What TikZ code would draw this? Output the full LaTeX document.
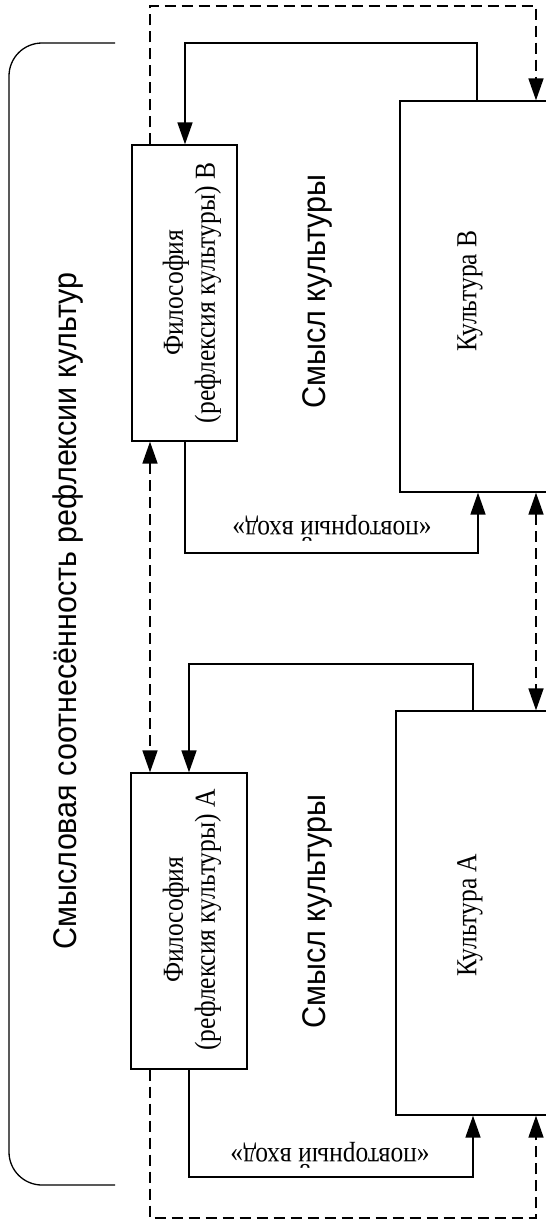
\documentclass[tikz,border=0pt]{standalone}
\usepackage{fontspec}
\setmainfont{Liberation Serif}[FakeStretch=0.88]
\newfontfamily\labelsans{Liberation Sans}[FakeStretch=0.93]
\usetikzlibrary{arrows.meta}
\tikzset{
  box/.style={draw, line width=0.65pt, inner sep=0pt},
  conn/.style={line width=0.85pt},
  arr/.style={conn, -{Triangle[length=11pt,width=7.5pt]}},
  darr/.style={conn, dash pattern=on 5.5pt off 3pt, -{Triangle[length=11pt,width=7.5pt]}},
  ddarr/.style={conn, dash pattern=on 5.5pt off 3pt, {Triangle[length=11pt,width=7.5pt]}-{Triangle[length=11pt,width=7.5pt]}},
  serif/.style={font=\fontsize{14.5pt}{16pt}\selectfont, align=center, inner sep=0pt},
  sans/.style={font=\labelsans\fontsize{16.4pt}{18pt}\selectfont, inner sep=0pt},
}
\begin{document}
\begin{tikzpicture}[x=0.5pt,y=-0.5pt]
\clip (0,0) rectangle (546,1222);
\fill[white] (0,0) rectangle (546,1222);

% boxes
\node[box, minimum width=52.5pt, minimum height=148pt] (pb) at (184.5,293) {};
\node[box, minimum width=58pt, minimum height=148pt] (pa) at (189,921) {};
\node[box, minimum width=80pt, minimum height=195.5pt] (kb) at (480,296.5) {};
\node[box, minimum width=82pt, minimum height=202pt] (ka) at (478,913) {};

% texts
\node[serif, rotate=90] (tpb) at (192,293) {Философия\\(рефлексия культуры) В};
\node[serif, rotate=90] (tpa) at (192,920) {Философия\\(рефлексия культуры) А};
\node[serif, rotate=90] (tkb) at (470,291) {Культура В};
\node[serif, rotate=90] (tka) at (470,915) {Культура А};
\node[sans, rotate=90] (smb) at (317,291.5) {Смысл культуры};
\node[sans, rotate=90] (sma) at (317,911.5) {Смысл культуры};
\node[sans, rotate=90] (main) at (68,611) {Смысловая соотнесённость рефлексии культур};

% bracket
\coordinate (br1) at (115,43);
\coordinate (br2) at (9,43);
\coordinate (br3) at (9,1185);
\coordinate (br4) at (115,1185);
\draw[line width=0.65pt, rounded corners=16.5pt] (br1) -- (br2) -- (br3) -- (br4);

% solid connectors B
\coordinate (tb1) at (477,43);
\coordinate (tb2) at (185,43);
\draw[arr] (kb.north -| tb1) -- (tb1) -- (tb2) -- (pb.north -| tb2);
\coordinate (bb1) at (185,553);
\coordinate (bb2) at (478,553);
\draw[arr] (pb.south -| bb1) -- (bb1) -- (bb2) -- (kb.south -| bb2);
\node[serif, rotate=180] (lb) at (332,528) {«повторный вход»};

% solid connectors A
\coordinate (ta1) at (473,664);
\coordinate (ta2) at (189,664);
\draw[arr] (ka.north -| ta1) -- (ta1) -- (ta2) -- (pa.north -| ta2);
\coordinate (ba1) at (189,1177);
\coordinate (ba2) at (473,1177);
\draw[arr] (pa.south -| ba1) -- (ba1) -- (ba2) -- (ka.south -| ba2);
\node[serif, rotate=180] (la) at (330,1155) {«повторный вход»};

% dashed connectors
\coordinate (dt1) at (150,6);
\coordinate (dt2) at (536,6);
\draw[darr] (pb.north -| dt1) -- (dt1) -- (dt2) -- (kb.north -| dt2);
\coordinate (dm1) at (150,600);
\draw[ddarr] (pb.south -| dm1) -- (pa.north -| dm1);
\coordinate (dm2) at (536,600);
\draw[ddarr] (kb.south -| dm2) -- (ka.north -| dm2);
\coordinate (db1) at (150,1218);
\coordinate (db2) at (536,1218);
\draw[darr] (pa.south -| db1) -- (db1) -- (db2) -- (ka.south -| db2);
\end{tikzpicture}
\end{document}
